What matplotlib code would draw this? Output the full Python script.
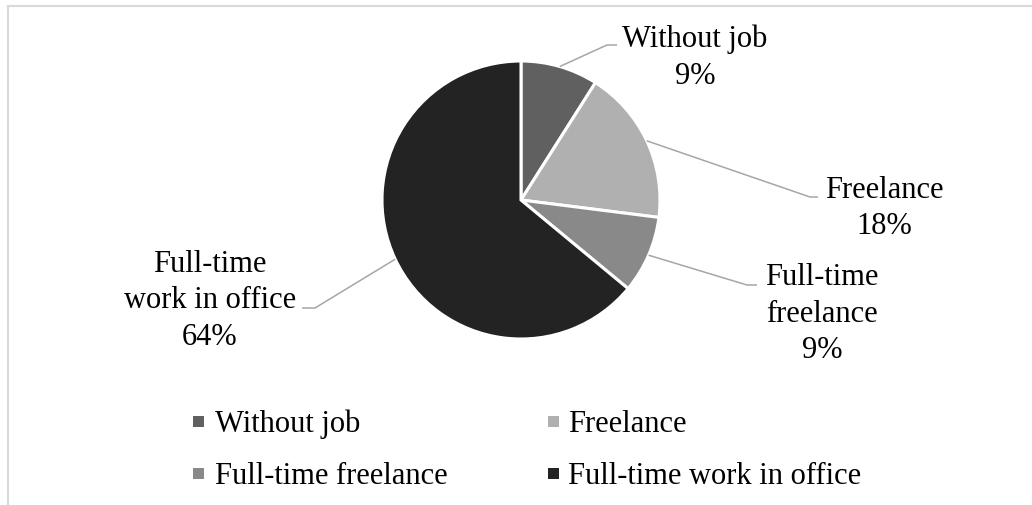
import numpy as np
import matplotlib.pyplot as plt
from matplotlib.patches import Rectangle

# employment status shares (%)
categories = ["Without job", "Freelance", "Full-time freelance", "Full-time work in office"]
shares = [9, 18, 9, 64]
slice_labels = ["Without job", "Freelance", "Full-time\nfreelance", "Full-time\nwork in office"]
colors = ["#606060", "#b0b0b0", "#898989", "#232323"]

W, H = 1032, 506
FS = 22
plt.rcParams["font.family"] = ["Liberation Serif", "DejaVu Serif"]

fig = plt.figure(figsize=(W / 100, H / 100), dpi=100)
ax = fig.add_axes([0, 0, 1, 1])

# everything below is laid out in pixel units, y measured from the top
def py(y):
    return H - y

cx, cy, r = 521, 201, 139
wedges, _ = ax.pie(shares, colors=colors, startangle=90, counterclock=False,
                   center=(cx, py(cy)), radius=r, frame=True,
                   wedgeprops=dict(edgecolor="white", linewidth=2.2))
ax.set_xlim(0, W)
ax.set_ylim(0, H)
ax.set_aspect("equal")
ax.axis("off")

# label placement: text centre x, first baseline y, leader elbow, leader end
label_pos = [
    (695, 47, (607, 46), (617, 46)),
    (884, 198, (810, 198), (818, 198)),
    (822, 285, (747, 286), (757, 286)),
    (210, 272, (315, 309), (302, 309)),
]
line_step = 36.5

lead_color = "#a6a6a6"
cum = np.cumsum([0] + shares)
for i, (lab, val) in enumerate(zip(slice_labels, shares)):
    tx, ty, elbow, end = label_pos[i]
    mid = np.deg2rad(90 - (cum[i] + val / 2) / 100 * 360)
    sx = cx + r * np.cos(mid)
    sy = py(cy) + r * np.sin(mid)
    ax.plot([sx, elbow[0], end[0]], [sy, py(elbow[1]), py(end[1])],
            color=lead_color, lw=1.1, solid_capstyle="butt")
    lines = lab.split("\n") + [f"{val}%"]
    for k, line in enumerate(lines):
        ax.text(tx, py(ty + k * line_step), line, ha="center", va="baseline",
                fontsize=FS, color="black")

# legend, two columns
leg_x = [(193, 215), (548, 568)]
leg_y = [422, 474]
for i, (name, col) in enumerate(zip(categories, colors)):
    (mx, tx), y = leg_x[i % 2], leg_y[i // 2]
    ax.add_patch(Rectangle((mx, py(y) - 5.5), 11, 11, facecolor=col, edgecolor="none"))
    ax.text(tx, py(y + 10), name, ha="left", va="baseline", fontsize=FS, color="black")

# chart area border (top and left edges visible)
ax.plot([7.5, W], [py(6.5), py(6.5)], color="#d9d9d9", lw=1.5)
ax.plot([7.5, 7.5], [py(6.5), 0], color="#d9d9d9", lw=1.5)

fig.savefig("out.png", dpi=100)
